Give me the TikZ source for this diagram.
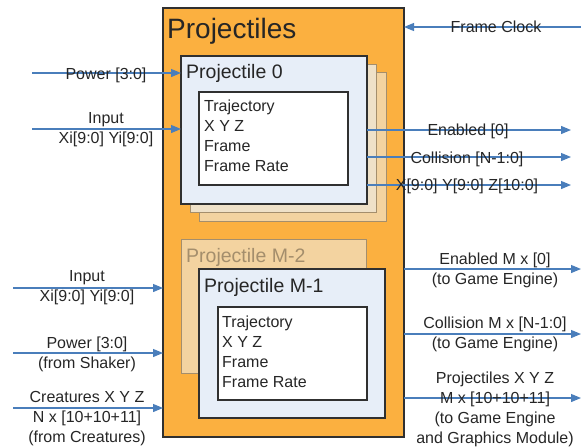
\documentclass[tikz,border=0pt]{standalone}
\usepackage{fontspec}
\setmainfont{Liberation Sans}
\usetikzlibrary{arrows.meta}

\definecolor{projorange}{HTML}{FBB040}
\definecolor{cardblue}{HTML}{E7EEF8}
\definecolor{stacklight}{HTML}{EFE1C8}
\definecolor{stackdark}{HTML}{F3D3A0}
\definecolor{stackline}{HTML}{A48E6C}
\definecolor{sigblue}{HTML}{4A7EBB}
\definecolor{boxgray}{HTML}{303030}
\definecolor{txtgray}{HTML}{262626}

\begin{document}
\begin{tikzpicture}[x=1pt,y=-1pt,
  sig/.style={draw=sigblue, line width=1.2pt, -{Triangle[length=10pt,width=8pt]}},
  box/.style={draw=boxgray, line width=1.2pt, outer sep=0pt, inner sep=0pt, anchor=north west},
  ghost/.style={box, draw=stackline, line width=1pt},
  lbl/.style={font=\fontsize{16}{20}\selectfont, inner sep=0pt, align=center, text=txtgray},
  listing/.style={font=\fontsize{16}{20}\selectfont, inner sep=0pt, align=left, anchor=north west, text=txtgray}]

\useasboundingbox (0,0) rectangle (581,447);

% Bloco principal
\node[box, fill=projorange, minimum width=241pt, minimum height=429pt] (proj) at (163,8) {};
\node[anchor=base west, inner sep=0pt, text=txtgray, font=\fontsize{28}{34}\selectfont] (projtitle) at (167,38) {Projectiles};

% Pilha do projetil 0
\node[ghost, fill=stackdark, minimum width=187pt, minimum height=149pt] (p0c) at (199,72) {};
\node[ghost, fill=stacklight, minimum width=186pt, minimum height=148pt] (p0b) at (190,64) {};
\node[box, fill=cardblue, line width=1.5pt, minimum width=186pt, minimum height=148pt] (p0) at (181,56) {};
\node[anchor=base west, inner sep=0pt, text=txtgray, font=\fontsize{19.5}{24}\selectfont] (p0title) at (186,78) {Projectile 0};
\node[box, fill=white, minimum width=149pt, minimum height=93pt] (p0reg) at (199,92) {};
\node[listing] (p0list) at (204,99.4) {Trajectory\\X Y Z\\Frame\\Frame Rate};

% Projetil M-2
\node[ghost, fill=stackdark, minimum width=185pt, minimum height=134pt] (pm2) at (181,239) {};
\node[anchor=base west, inner sep=0pt, text=stackline, font=\fontsize{19.5}{24}\selectfont] (pm2title) at (186,262) {Projectile M-2};

% Projetil M-1
\node[box, fill=cardblue, line width=1.5pt, minimum width=186pt, minimum height=149pt] (pm1) at (199,269) {};
\node[anchor=base west, inner sep=0pt, text=txtgray, font=\fontsize{19.5}{24}\selectfont] (pm1title) at (204,292) {Projectile M-1};
\node[box, fill=white, minimum width=149pt, minimum height=93pt] (pm1reg) at (218,307) {};
\node[listing] (pm1list) at (222,315.4) {Trajectory\\X Y Z\\Frame\\Frame Rate};

% Entradas do projetil 0
\coordinate (pwr0) at (32,73);
\coordinate (inp0) at (32,129);
\draw[sig] (pwr0) -- (pwr0 -| p0.west);
\draw[sig] (inp0) -- (inp0 -| p0.west);
\node[lbl, anchor=base] (pwr0txt) at (106,79) {Power [3:0]};
\node[lbl, anchor=north] (inp0txt) at (106,112.4) {Input\\Xi[9:0] Yi[9:0]};

% Relogio
\coordinate (clk) at (581,27);
\draw[sig] (clk) -- (clk -| proj.east);
\node[lbl, anchor=base] (clktxt) at (496,32) {Frame Clock};

% Saidas do projetil 0
\coordinate (en0) at (571,130);
\coordinate (col0) at (571,157);
\coordinate (xyz0) at (571,185);
\draw[sig] (en0 -| p0.east) -- (en0);
\draw[sig] (col0 -| p0.east) -- (col0);
\draw[sig] (xyz0 -| p0.east) -- (xyz0);
\node[lbl, anchor=base] (en0txt) at (468,135) {Enabled [0]};
\node[lbl, anchor=base] (col0txt) at (467,163) {Collision [N-1:0]};
\node[lbl, anchor=base] (xyz0txt) at (467,190) {X[9:0] Y[9:0] Z[10:0]};

% Entradas do bloco
\coordinate (inpM) at (13,288);
\coordinate (pwrM) at (13,353);
\coordinate (creM) at (13,408);
\draw[sig] (inpM) -- (inpM -| proj.west);
\draw[sig] (pwrM) -- (pwrM -| proj.west);
\draw[sig] (creM) -- (creM -| proj.west);
\node[lbl, anchor=north] (inpMtxt) at (87,270.4) {Input\\Xi[9:0] Yi[9:0]};
\node[lbl, anchor=north] (pwrMtxt) at (87,336.4) {Power [3:0]\\(from Shaker)};
\node[lbl, anchor=north] (creMtxt) at (87,391.4) {Creatures X Y Z\\N x [10+10+11]\\(from Creatures)};

% Saidas do bloco
\coordinate (enM) at (581,269);
\coordinate (colM) at (581,334);
\coordinate (xyzM) at (581,398);
\draw[sig] (enM -| proj.east) -- (enM);
\draw[sig] (colM -| proj.east) -- (colM);
\draw[sig] (xyzM -| proj.east) -- (xyzM);
\node[lbl, anchor=north] (enMtxt) at (495,252.4) {Enabled M x [0]\\(to Game Engine)};
\node[lbl, anchor=north] (colMtxt) at (495,316.4) {Collision M x [N-1:0]\\(to Game Engine)};
\node[lbl, anchor=north] (xyzMtxt) at (495,371.4) {Projectiles X Y Z\\M x [10+10+11]\\(to Game Engine\\and Graphics Module)};

\end{tikzpicture}
\end{document}
